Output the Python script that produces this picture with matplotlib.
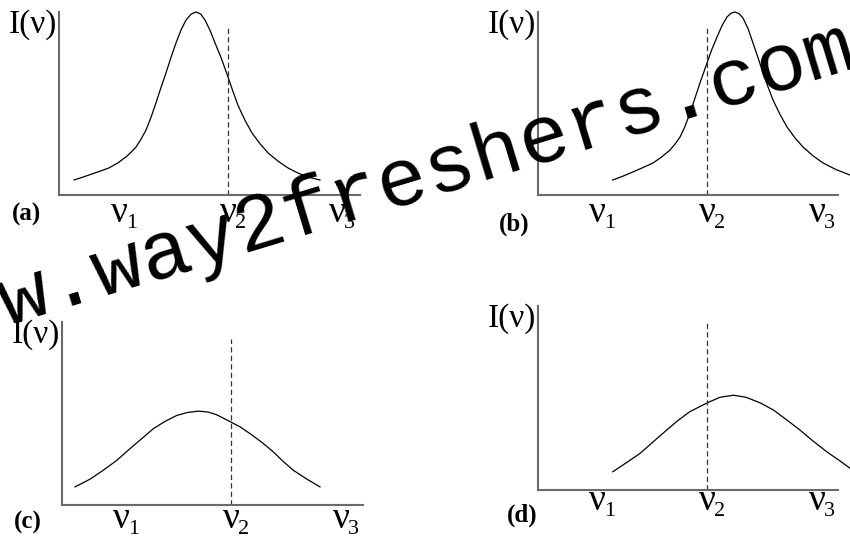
import matplotlib
matplotlib.use('Agg')
import matplotlib.pyplot as plt
from matplotlib.transforms import offset_copy, blended_transform_factory

W, H, DPI = 850, 539, 100

# ---------------- data ----------------
panel_names = ['(a)', '(b)', '(c)', '(d)']
y_label = 'I(ν)'
tick_pos = [1, 2, 3]
tick_sub = ['1', '2', '3']
marker_nu = 2.0            # dashed line at ν2

nu_a = [0.587, 0.670, 0.752, 0.830, 0.908, 0.991, 1.064, 1.110, 1.156, 1.202,
        1.248, 1.294, 1.339, 1.385, 1.431, 1.477, 1.523, 1.569, 1.615, 1.661,
        1.706, 1.748, 1.789, 1.835, 1.881, 1.940, 2.000, 2.046, 2.092, 2.156,
        2.220, 2.294, 2.367, 2.459, 2.550, 2.642, 2.734, 2.844]
I_a = [0.082, 0.098, 0.115, 0.131, 0.148, 0.176, 0.208, 0.233, 0.262, 0.305,
       0.355, 0.425, 0.503, 0.587, 0.667, 0.752, 0.831, 0.902, 0.956, 0.988,
       1.000, 0.990, 0.956, 0.900, 0.831, 0.745, 0.645, 0.565, 0.490, 0.408,
       0.339, 0.280, 0.230, 0.185, 0.148, 0.120, 0.098, 0.082]

nu_b = [1.143, 1.236, 1.327, 1.418, 1.509, 1.586, 1.664, 1.709, 1.755, 1.800,
        1.845, 1.891, 1.936, 2.000, 2.045, 2.091, 2.136, 2.182, 2.218, 2.255,
        2.291, 2.327, 2.373, 2.418, 2.464, 2.509, 2.555, 2.600, 2.664, 2.727,
        2.800, 2.873, 2.964, 3.055, 3.173, 3.300]
I_b = [0.082, 0.103, 0.126, 0.150, 0.175, 0.207, 0.246, 0.278, 0.317, 0.375,
       0.448, 0.530, 0.612, 0.721, 0.797, 0.863, 0.925, 0.973, 0.993, 1.000,
       0.991, 0.967, 0.910, 0.831, 0.750, 0.667, 0.590, 0.519, 0.440, 0.372,
       0.312, 0.262, 0.214, 0.175, 0.139, 0.109]

nu_c = [0.582, 0.718, 0.839, 0.964, 1.082, 1.191, 1.294, 1.400, 1.506, 1.600, 1.703,
        1.791, 1.870, 2.000, 2.082, 2.173, 2.282, 2.385, 2.473, 2.566, 2.691, 2.809]
I_c = [0.099, 0.141, 0.190, 0.245, 0.308, 0.364, 0.417, 0.457, 0.489, 0.505, 0.513,
       0.508, 0.493, 0.453, 0.427, 0.390, 0.342, 0.290, 0.239, 0.190, 0.141, 0.099]

nu_d = [1.143, 1.264, 1.391, 1.509, 1.634, 1.736, 1.845, 2.003, 2.118, 2.239, 2.355,
        2.482, 2.603, 2.727, 2.845, 2.964, 3.088, 3.209, 3.300]
I_d = [0.099, 0.147, 0.199, 0.261, 0.326, 0.378, 0.426, 0.474, 0.504, 0.515, 0.504,
       0.474, 0.435, 0.380, 0.326, 0.266, 0.208, 0.158, 0.118]

dash_top = [0.913, 0.913, 0.908, 0.913]

watermark = 'w.way2freshers.com'

# ---------------- layout (pixels) ----------------
layouts = [
    dict(x0=59, x1=360, top=12, bot=195, ref=228, ppn=109, base=27, lab=(27, 214)),
    dict(x0=538, x1=838, top=12, bot=195, ref=707, ppn=110, base=27, lab=(514, 224)),
    dict(x0=62, x1=363, top=322, bot=505, ref=231, ppn=110, base=23, lab=(28, 522)),
    dict(x0=538, x1=838, top=306, bot=490, ref=707, ppn=110, base=20, lab=(522, 515)),
]
curves = [(nu_a, I_a), (nu_b, I_b), (nu_c, I_c), (nu_d, I_d)]

SERIF = ['Liberation Serif', 'DejaVu Serif']
AXC = '#6a6a6a'

fig = plt.figure(figsize=(W / DPI, H / DPI), dpi=DPI)
fig.patch.set_facecolor('white')

for k, (L, (xs, ys)) in enumerate(zip(layouts, curves)):
    wpx = L['x1'] - L['x0']
    hpx = L['bot'] - L['top']
    ax = fig.add_axes([L['x0'] / W, 1 - L['bot'] / H, wpx / W, hpx / H])
    ax.patch.set_alpha(0)
    ax.set_xlim(2 + (L['x0'] - L['ref']) / L['ppn'], 2 + (L['x1'] - L['ref']) / L['ppn'])
    ax.set_ylim(0, 1)
    for s in ['top', 'right']:
        ax.spines[s].set_visible(False)
    for s in ['left', 'bottom']:
        ax.spines[s].set_color(AXC)
        ax.spines[s].set_linewidth(1.5)
    ax.set_xticks([])
    ax.set_yticks([])

    ax.plot(xs, ys, color='black', lw=0.9, clip_on=False, solid_joinstyle='round')
    ax.plot([marker_nu, marker_nu], [0, dash_top[k]], color='#333333', lw=0.9,
            ls=(0, (4.2, 2.6)))

    # y label
    ax.text(-2 / wpx, 1 - 13 / hpx, y_label, transform=ax.transAxes, ha='right',
            va='center', fontsize=24, family=SERIF)

    # ν tick labels
    tr = blended_transform_factory(ax.transData, ax.transAxes)
    yb = -L['base'] / hpx
    for p, sub in zip(tick_pos, tick_sub):
        ax.text(p, yb, 'ν', transform=tr, ha='center', va='baseline',
                fontsize=27, family=SERIF)
        ax.text(p, yb, sub, transform=offset_copy(tr, fig=fig, x=7, y=-6, units='dots'),
                ha='left', va='baseline', fontsize=16, family=SERIF)

    # panel label
    fig.text(L['lab'][0] / W, 1 - L['lab'][1] / H, panel_names[k], ha='center',
             va='center', fontsize=18, fontweight='bold', family=SERIF)

# watermark
fig.text(5.9 / W, 1 - 325.9 / H, watermark, rotation=16.9, rotation_mode='anchor',
         ha='left', va='baseline', fontsize=59.4, family='Liberation Mono',
         color='black', zorder=20)

fig.savefig('out.png', dpi=DPI, facecolor='white')
